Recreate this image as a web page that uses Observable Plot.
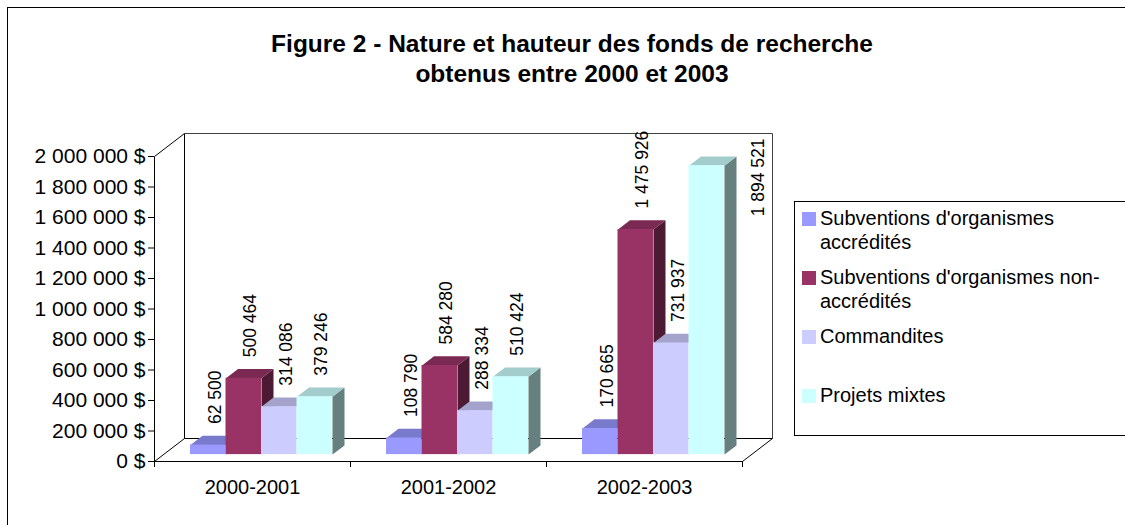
<!DOCTYPE html>
<html>
<head>
<meta charset="utf-8">
<script src="https://cdn.jsdelivr.net/npm/d3@7"></script>
<script src="https://cdn.jsdelivr.net/npm/@observablehq/plot@0.6"></script>
<style>
  body { margin: 0; background: #fff; font-family: "Liberation Sans", Arial, sans-serif; }
  #chart { position: relative; width: 1125px; height: 525px; overflow: hidden; background: #fff; }
  #frame { position: absolute; left: 7px; top: 7px; width: 1300px; height: 700px;
           border-left: 1px solid #000; border-top: 1px solid #000; }
  #title { position: absolute; left: 0; top: 29px; width: 1144px; text-align: center;
           font-weight: bold; font-size: 24.5px; line-height: 30px; color: #000; }
  #plot { position: absolute; left: 0; top: 95px; }
  #legend { position: absolute; left: 794px; top: 201px; width: 360px; height: 233px;
            border: 1px solid #000; background: #fff; overflow: hidden; }
  .item { position: relative; height: 59px; }
  .sw { position: absolute; left: 7px; top: 10px; width: 14px; height: 14px; }
  .lab { position: absolute; left: 25px; top: 4px; width: 300px; font-size: 20px;
         line-height: 24px; color: #000; }
</style>
</head>
<body>
<div id="chart">
  <div id="frame"></div>
  <div id="title"></div>
  <div id="plot"></div>
  <div id="legend"></div>
</div>
<script>
// ---------- data ----------
const titleLines = ["Figure 2 - Nature et hauteur des fonds de recherche", "obtenus entre 2000 et 2003"];
const categories = ["2000-2001", "2001-2002", "2002-2003"];
const seriesNames = [
  "Subventions d'organismes accrédités",
  "Subventions d'organismes non-accrédités",
  "Commandites",
  "Projets mixtes"
];
const accredites    = [62500, 108790, 170665];
const nonAccredites = [500464, 584280, 1475926];
const commandites   = [314086, 288334, 731937];
const projetsMixtes = [379246, 510424, 1894521];
const seriesColors  = ["#9999FF", "#993366", "#CCCCFF", "#CCFFFF"];
const yTicks = [0, 200000, 400000, 600000, 800000, 1000000, 1200000, 1400000, 1600000, 1800000, 2000000];

// ---------- layout ----------
const W = 790, H = 430, mL = 154, mR = 48, mT = 61, mB = 64;
const yMax = yTicks[yTicks.length - 1];
const xMax = categories.length;
const pxPerX = (W - mL - mR) / xMax;
const pxPerY = (H - mT - mB) / yMax;
const DX = 30 / pxPerX;      // depth offset of back wall, x units
const DY = 23 / pxPerY;      // depth offset of back wall, y units
const D0 = 0.3, D1 = 0.7;    // bar front / back depth fractions
const BW = 35.5 / pxPerX;    // bar width, x units
const LABEL_FIT_MAX = 1600000;

const fmt = v => d3.format(",")(v).replace(/,/g, " ");
const shade = (c, k) => { const r = d3.rgb(c); return d3.rgb(r.r * k, r.g * k, r.b * k).formatHex(); };

// ---------- build geometry from data ----------
const seriesValues = [accredites, nonAccredites, commandites, projetsMixtes];
const bars = [];
categories.forEach((c, g) => seriesValues.forEach((vals, s) => {
  const x0 = g + 0.5 - 2 * BW + s * BW;
  bars.push({g, s, x0, x1: x0 + BW, v: vals[g], color: seriesColors[s]});
}));
const P = (x, v, d) => ({x: x + d * DX, y: v + d * DY});
const tops = [], sides = [];
bars.forEach((b, i) => {
  [P(b.x0, b.v, D0), P(b.x1, b.v, D0), P(b.x1, b.v, D1), P(b.x0, b.v, D1)]
    .forEach(p => tops.push({...p, id: i, fill: shade(b.color, 0.8)}));
  [P(b.x1, 0, D0), P(b.x1, 0, D1), P(b.x1, b.v, D1), P(b.x1, b.v, D0)]
    .forEach(p => sides.push({...p, id: i, fill: shade(b.color, 0.5)}));
});
const fronts = bars.map(b => ({
  x1: b.x0 + D0 * DX, x2: b.x1 + D0 * DX, y1: D0 * DY, y2: b.v + D0 * DY, fill: b.color
}));
const labels = bars.map(b => ({
  x: (b.x0 + b.x1) / 2 + D0 * DX, y: b.v + D0 * DY, text: fmt(b.v), over: b.v > LABEL_FIT_MAX
}));

const walls = [
  {x1: 0, y1: 0, x2: 0, y2: yMax, c: "#000000"},
  {x1: 0, y1: yMax, x2: DX, y2: yMax + DY, c: "#000000"},
  {x1: 0, y1: 0, x2: DX, y2: DY, c: "#000000"},
  {x1: DX, y1: DY, x2: DX, y2: yMax + DY, c: "#000000"},
  {x1: DX, y1: yMax + DY, x2: xMax + DX, y2: yMax + DY, c: "#404040"},
  {x1: xMax + DX, y1: yMax + DY, x2: xMax + DX, y2: DY, c: "#404040"},
  {x1: DX, y1: DY, x2: xMax + DX, y2: DY, c: "#000000"},
  {x1: 0, y1: 0, x2: xMax, y2: 0, c: "#000000"},
  {x1: xMax, y1: 0, x2: xMax + DX, y2: DY, c: "#000000"}
];

const plot = Plot.plot({
  width: W, height: H,
  marginLeft: mL, marginRight: mR, marginTop: mT, marginBottom: mB,
  x: {domain: [0, xMax]},
  y: {domain: [0, yMax]},
  style: {fontFamily: '"Liberation Sans", Arial, sans-serif', fontSize: "20px", color: "#000", background: "transparent", overflow: "visible"},
  marks: [
    Plot.link(walls, {x1: "x1", y1: "y1", x2: "x2", y2: "y2", stroke: "c", strokeWidth: 1}),
    Plot.line(sides, {x: "x", y: "y", z: "id", fill: "fill", stroke: "none"}),
    Plot.line(tops, {x: "x", y: "y", z: "id", fill: "fill", stroke: "none"}),
    Plot.rect(fronts, {x1: "x1", x2: "x2", y1: "y1", y2: "y2", fill: "fill"}),
    Plot.text(labels.filter(d => !d.over), {x: "x", y: "y", text: "text", rotate: -90, textAnchor: "start", dx: 7, dy: -21, fontSize: 17.5, fill: "#000"}),
    Plot.text(labels.filter(d => d.over), {x: "x", text: "text", frameAnchor: "top", rotate: -90, textAnchor: "end", dx: 45, dy: -18, fontSize: 17.5, fill: "#000"}),
    Plot.axisY({ticks: yTicks, tickSize: 6, tickPadding: 3, tickFormat: v => fmt(v) + " $", fontSize: 21, label: null}),
    Plot.axisX({ticks: d3.range(xMax + 1), tickSize: 6, tickFormat: () => "", label: null}),
    Plot.text(categories, {x: (d, i) => i + 0.5, y: () => 0, text: d => d, dy: 26, fontSize: 20, fill: "#000"})
  ]
});
document.getElementById("plot").appendChild(plot);

// ---------- title ----------
document.getElementById("title").innerHTML = titleLines.map(t => `<div>${t}</div>`).join("");

// ---------- legend ----------
const legend = document.getElementById("legend");
seriesNames.forEach((name, i) => {
  const item = document.createElement("div");
  item.className = "item";
  item.innerHTML = `<div class="sw" style="background:${seriesColors[i]}"></div><div class="lab">${name}</div>`;
  legend.appendChild(item);
});
</script>
</body>
</html>
